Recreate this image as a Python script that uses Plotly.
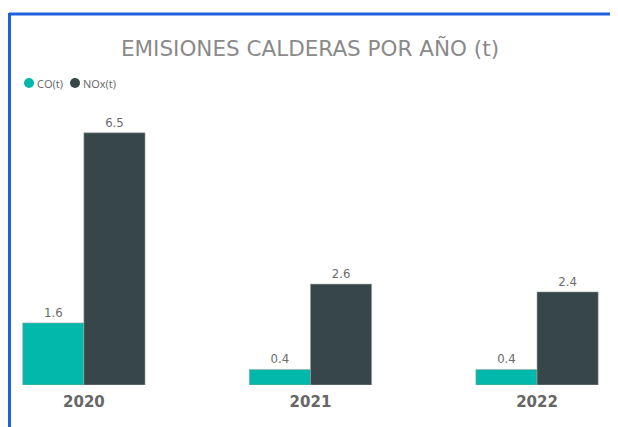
import plotly.graph_objects as go

years = ["2020", "2021", "2022"]
co = [1.6, 0.4, 0.4]
nox = [6.5, 2.6, 2.4]
series_names = ["CO(t)", "NOx(t)"]
colors = ["#01B8AA", "#374649"]

# page has an 8px body margin; work in page pixels and convert
O = 8
W, H = 610, 419
PL, PR, PT, PB = 15, 605, 100, 385  # plot area in page pixels
L, R, T = PL - O, W - (PR - O), PT - O
B = H - (PB - O)
pw, ph = W - L - R, H - T - B

def px_x(p):
    return (p - O - L) / pw

def px_y(p):
    return (H - B - (p - O)) / ph

fig = go.Figure()
for name, vals, c in zip(series_names, [co, nox], colors):
    fig.add_trace(go.Bar(
        x=years, y=vals, name=name, marker=dict(color=c, line=dict(color="#a0a6a6", width=0.6)),
        text=[f"{v:.1f}" for v in vals], textposition="outside",
        textfont=dict(color="#6b6b6b", size=13, family="DejaVu Sans Condensed"),
        cliponaxis=False, showlegend=False,
    ))

# compact legend: circle + label per series
legend_x = [29, 75]
annotations = []
shapes = []
for n, c, lx in zip(series_names, colors, legend_x):
    shapes.append(dict(type="circle", xref="paper", yref="paper", xsizemode="pixel", ysizemode="pixel",
                       xanchor=px_x(lx), yanchor=px_y(83), x0=-5, x1=5, y0=-5, y1=5,
                       fillcolor=c, line=dict(width=0)))
    annotations.append(dict(text=n, xref="paper", yref="paper", x=px_x(lx + 6), y=px_y(83),
                            xanchor="left", yanchor="middle", showarrow=False,
                            font=dict(size=11, color="#666666", family="Open Sans")))

shapes += [
    dict(type="line", xref="paper", yref="paper", x0=px_x(9), x1=px_x(640), y0=px_y(14), y1=px_y(14),
         line=dict(color="#1f5fe0", width=3)),
    dict(type="line", xref="paper", yref="paper", x0=px_x(9.5), x1=px_x(9.5), y0=px_y(13), y1=px_y(440),
         line=dict(color="#1f5fe0", width=3)),
]

fig.update_layout(
    width=W, height=H,
    margin=dict(l=L, r=R, t=T, b=B),
    paper_bgcolor="white", plot_bgcolor="white",
    barmode="group", bargap=0.46, bargroupgap=0,
    showlegend=False,
    title=dict(text="EMISIONES CALDERAS POR AÑO (t)", x=px_x(310), xanchor="center",
               xref="paper", y=1 - (48 - O) / H, yanchor="middle",
               font=dict(family="DejaVu Sans", size=21.5, color="#8a8a8a")),
    annotations=annotations,
    xaxis=dict(type="category", range=[-0.304, 2.3], showgrid=False, showline=False,
               ticks="", ticklabelstandoff=6,
               tickfont=dict(size=15, color="#666666", family="DejaVu Sans", weight="bold"),
               fixedrange=True),
    yaxis=dict(range=[0, ph / 38.8], visible=False, showgrid=False, zeroline=False),
    shapes=shapes,
)

fig.write_html("out.html")
